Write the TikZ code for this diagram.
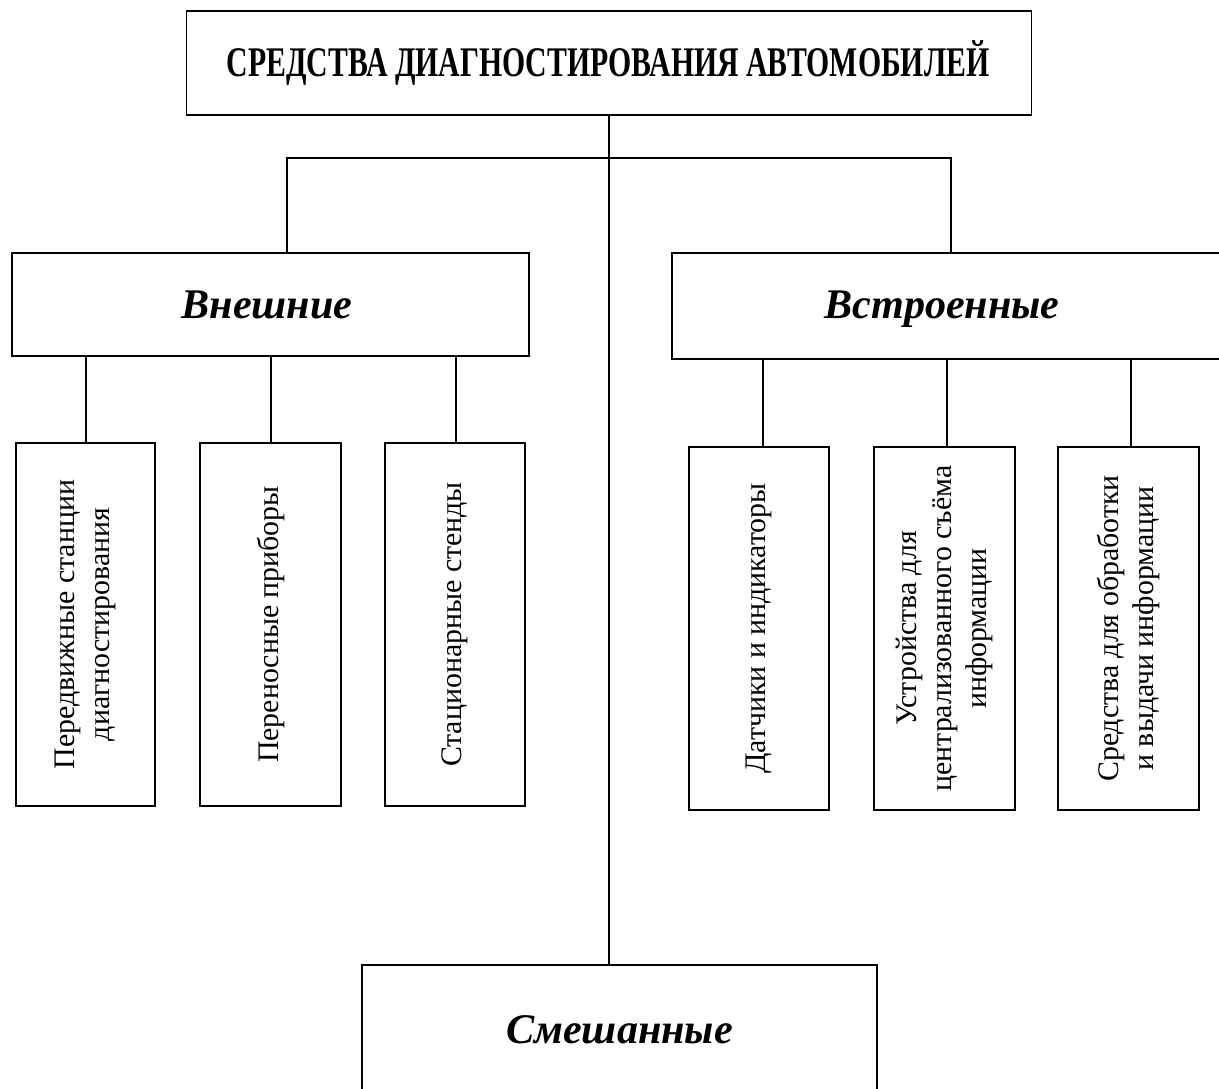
\documentclass[tikz,border=0pt]{standalone}
\usepackage{fontspec}
\setmainfont{Liberation Serif}
\usepackage{graphicx}
\tikzset{
  box/.style={draw, line width=1pt, inner sep=0pt},
  nobox/.style={inner sep=0pt},
  vtext/.style={rotate=90, align=center, inner sep=0pt, font=\fontsize{17}{20}\selectfont},
  ctext/.style={font=\bfseries\itshape\fontsize{24}{28}\selectfont},
  conn/.style={line width=1pt}
}
\begin{document}
\begin{tikzpicture}[x=0.02cm, y=-0.02cm]
\useasboundingbox (0,0) rectangle (1219,1088);
\clip (0,0) rectangle (1219,1088);
\fill[white] (0,0) rectangle (1219,1088);

% top
\node[box, minimum width=16.9cm, minimum height=2.08cm] (top) at (609,63) {};
\node[nobox] (toptext) at (608,63) {\resizebox{434pt}{\height}{\bfseries\fontsize{24}{28}\selectfont СРЕДСТВА ДИАГНОСТИРОВАНИЯ АВТОМОБИЛЕЙ}};

% level 2
\node[box, minimum width=10.34cm, minimum height=2.06cm] (vn) at (270.5,304.5) {};
\node[nobox, ctext] (vnt) at (267,305) {Внешние};
\node[nobox, minimum width=10.94cm, minimum height=2.12cm] (vs) at (945.5,306) {};
\node[nobox, ctext] (vst) at (942,309) {Встроенные};
\draw[conn] (vs.north east) -- (vs.north west) -- (vs.south west) -- (vs.south east);
\node[nobox, minimum width=10.3cm, minimum height=2.6cm] (sm) at (619.5,1030) {};
\node[nobox, ctext] (smt) at (619.5,1030) {Смешанные};
\draw[conn] (sm.south west) -- (sm.north west) -- (sm.north east) -- (sm.south east);

% connectors from top
\coordinate (hl) at (287,158);
\coordinate (hr) at (951,158);
\draw[conn] (top.south) -- (top.south |- sm.north);
\draw[conn] (vn.north -| hl) -- (hl) -- (hr) -- (vs.north -| hr);

% left children
\node[box, minimum width=2.78cm, minimum height=7.26cm] (a1) at (85.5,624.5) {};
\node[box, minimum width=2.82cm, minimum height=7.26cm] (a2) at (270.5,624.5) {};
\node[box, minimum width=2.8cm, minimum height=7.26cm] (a3) at (455,624.5) {};
\node[vtext] (ta1) at (a1) {Передвижные станции\\диагностирования};
\node[vtext] (ta2) at (a2) {Переносные приборы};
\node[vtext] (ta3) at (a3) {Стационарные стенды};
\coordinate (la1) at (86,0);
\coordinate (la2) at (271,0);
\coordinate (la3) at (456,0);
\draw[conn] (a1.north -| la1) -- (vn.south -| la1);
\draw[conn] (a2.north -| la2) -- (vn.south -| la2);
\draw[conn] (a3.north -| la3) -- (vn.south -| la3);

% right children
\node[box, minimum width=2.8cm, minimum height=7.26cm] (b1) at (759,628.5) {};
\node[box, minimum width=2.82cm, minimum height=7.26cm] (b2) at (944.5,628.5) {};
\node[box, minimum width=2.82cm, minimum height=7.26cm] (b3) at (1128.5,628.5) {};
\node[vtext] (tb1) at (b1) {Датчики и индикаторы};
\node[vtext] (tb2) at (b2) {Устройства для\\централизованного съёма\\информации};
\node[vtext] (tb3) at (b3) {Средства для обработки\\и выдачи информации};
\coordinate (lb1) at (763,0);
\coordinate (lb2) at (947,0);
\coordinate (lb3) at (1131,0);
\draw[conn] (b1.north -| lb1) -- (vs.south -| lb1);
\draw[conn] (b2.north -| lb2) -- (vs.south -| lb2);
\draw[conn] (b3.north -| lb3) -- (vs.south -| lb3);
\end{tikzpicture}
\end{document}
